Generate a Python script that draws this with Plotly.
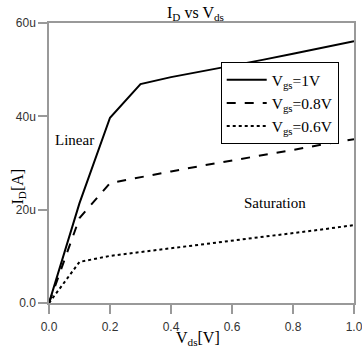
import plotly.graph_objects as go

vds = [0.0, 0.1, 0.2, 0.3, 0.4, 0.5, 0.6, 0.7, 0.8, 0.9, 1.0]
id_vgs_1v = [0.0, 21.4, 39.7, 46.9, 48.4, 49.6, 50.9, 52.1, 53.4, 54.7, 56.1]
id_vgs_08v = [0.0, 18.2, 25.7, 27.0, 28.2, 29.4, 30.5, 31.7, 32.8, 34.0, 35.1]
id_vgs_06v = [0.0, 8.8, 10.1, 10.9, 11.7, 12.5, 13.3, 14.2, 15.0, 15.8, 16.7]

y_tickvals = [0, 20, 40, 60]
y_ticktext = ["0.0", "20u", "40u", "60u"]
x_tickvals = [0.0, 0.2, 0.4, 0.6, 0.8, 1.0]
x_ticktext = ["0.0", "0.2", "0.4", "0.6", "0.8", "1.0"]

serif = "Liberation Serif"
sans = "Liberation Sans"

fig = go.Figure()
fig.add_trace(go.Scatter(x=vds, y=id_vgs_1v, mode="lines", name="V<sub>gs</sub>=1V",
                         line=dict(color="black", width=2, dash="solid")))
fig.add_trace(go.Scatter(x=vds, y=id_vgs_08v, mode="lines", name="V<sub>gs</sub>=0.8V",
                         line=dict(color="black", width=2, dash="dash")))
fig.add_trace(go.Scatter(x=vds, y=id_vgs_06v, mode="lines", name="V<sub>gs</sub>=0.6V",
                         line=dict(color="black", width=2, dash="dot")))

axis_common = dict(showline=True, linecolor="#999999", linewidth=1.5, mirror=True,
                   showgrid=False, zeroline=False, ticks="outside", ticklen=9,
                   tickcolor="#999999", tickwidth=1.5, automargin=False,
                   ticklabeloverflow="allow",
                   tickfont=dict(family=sans, size=12, color="#333333"))

fig.update_layout(
    width=362, height=347,
    margin=dict(l=49, r=8, t=23, b=44),
    plot_bgcolor="white", paper_bgcolor="white",
    title=dict(text="I<sub>D</sub> vs V<sub>ds</sub>", x=0.54, xanchor="center",
               y=0.965, yanchor="middle",
               font=dict(family=serif, size=16, color="black")),
    xaxis=dict(range=[0, 1], tickvals=x_tickvals, ticktext=x_ticktext,
               ticklabelstandoff=3, **axis_common),
    yaxis=dict(range=[0, 60], tickvals=y_tickvals, ticktext=y_ticktext, **axis_common),
    legend=dict(x=0.563, y=0.86, xanchor="left", yanchor="top",
                bgcolor="white", bordercolor="black", borderwidth=1,
                font=dict(family=serif, size=15.5, color="black"),
                tracegroupgap=0, itemwidth=40),
    showlegend=True,
)

# axis titles
fig.add_annotation(x=0.49, y=-0.125, xref="paper", yref="paper", yanchor="middle",
                   text="V<sub>ds</sub>[V]", showarrow=False,
                   font=dict(family=serif, size=16, color="black"))
fig.add_annotation(x=-0.137, y=0.415, xref="paper", yref="paper", textangle=-90,
                   text="I<sub>D</sub>[A]", showarrow=False,
                   font=dict(family=serif, size=16, color="black"))

fig.add_annotation(x=0.085, y=35, xref="x", yref="y", text="Linear", showarrow=False,
                   font=dict(family=serif, size=15, color="black"))
fig.add_annotation(x=0.74, y=21.4, xref="x", yref="y", text="Saturation", showarrow=False,
                   font=dict(family=serif, size=15, color="black"))

fig.write_html("out.html", config={"displayModeBar": False},
               post_script="document.body.style.margin='0';document.body.style.overflow='hidden';")
